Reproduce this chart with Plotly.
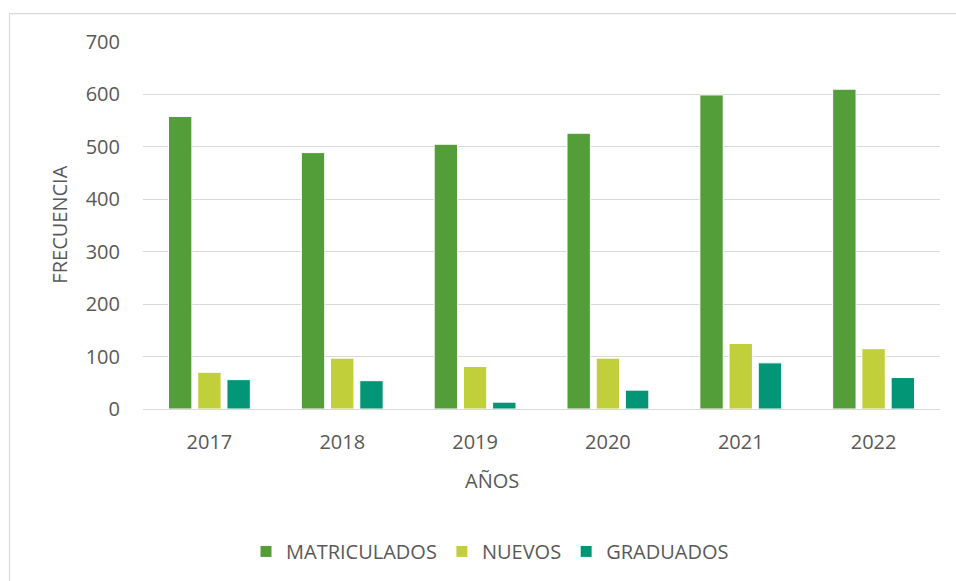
import plotly.graph_objects as go

years = ["2017", "2018", "2019", "2020", "2021", "2022"]
matriculados = [558, 489, 505, 526, 599, 610]
nuevos = [70, 97, 81, 97, 125, 115]
graduados = [56, 54, 13, 36, 88, 60]
series_names = ["MATRICULADOS", "NUEVOS", "GRADUADOS"]
colors = ["#549E39", "#C0CF3A", "#029676"]
y_ticks = [0, 100, 200, 300, 400, 500, 600, 700]

W, H = 956, 581
L, R, T, B = 143, 16, 42, 171.3
pw, ph = W - L - R, H - T - B

def px_x(px):
    return (px - L) / pw

def px_y(py):
    return (H - B - py) / ph

FONT = "Open Sans"
FS = 20
TXT = "#595959"

fig = go.Figure()
for name, vals, c in zip(series_names, [matriculados, nuevos, graduados], colors):
    fig.add_trace(go.Bar(
        x=years, y=vals, name=name,
        marker=dict(color=c, line=dict(color="white", width=1)),
    ))

fig.update_layout(
    width=W, height=H,
    margin=dict(l=L, r=R, t=T, b=B, pad=0),
    paper_bgcolor="white", plot_bgcolor="white",
    barmode="group", bargap=0.34, bargroupgap=0.2,
    font=dict(family=FONT, size=FS, color=TXT),
    showlegend=True,
    legend=dict(orientation="h", x=px_x(490), xanchor="center",
                y=px_y(551), yanchor="middle",
                font=dict(family=FONT, size=FS, color=TXT),
                itemwidth=30, tracegroupgap=0),
    xaxis=dict(type="category", showgrid=False, zeroline=False,
               showline=False, ticks="", ticklabelstandoff=19,
               tickfont=dict(family=FONT, size=FS, color=TXT)),
    yaxis=dict(range=[0, 700], tickvals=y_ticks, showgrid=True,
               gridcolor="#D9D9D9", gridwidth=1.2, zeroline=True,
               zerolinecolor="#D9D9D9", zerolinewidth=1.2,
               showline=False, ticks="", ticklabelstandoff=22,
               tickfont=dict(family=FONT, size=FS, color=TXT)),
    annotations=[
        dict(text="AÑOS", x=px_x(492), y=px_y(481), xref="paper", yref="paper",
             showarrow=False, xanchor="center", yanchor="middle",
             font=dict(family=FONT, size=FS, color=TXT)),
        dict(text="FRECUENCIA", x=px_x(60), y=px_y(225), xref="paper", yref="paper",
             showarrow=False, xanchor="center", yanchor="middle", textangle=-90,
             font=dict(family=FONT, size=FS, color=TXT)),
    ],
    shapes=[
        dict(type="line", xref="paper", yref="paper",
             x0=px_x(9.5), x1=px_x(960), y0=px_y(13.5), y1=px_y(13.5),
             line=dict(color="#D9D9D9", width=1.2)),
        dict(type="line", xref="paper", yref="paper",
             x0=px_x(9.5), x1=px_x(9.5), y0=px_y(13.5), y1=px_y(590),
             line=dict(color="#D9D9D9", width=1.2)),
    ],
)

fig.write_html("out.html", config={"displayModeBar": False},
               post_script="document.body.style.margin='0';document.body.style.overflow='hidden';")
